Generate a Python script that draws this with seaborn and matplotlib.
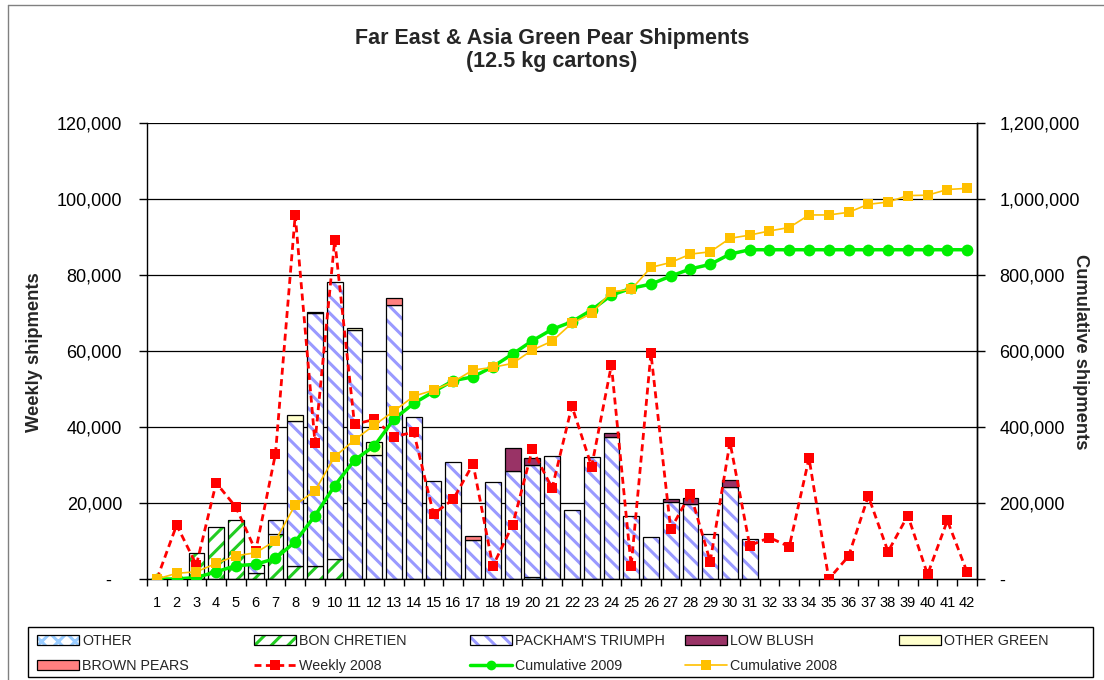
import numpy as np
import matplotlib
matplotlib.use('Agg')
import matplotlib.pyplot as plt
from matplotlib.patches import Patch, Rectangle
from matplotlib.lines import Line2D
from matplotlib.ticker import FuncFormatter
import seaborn as sns

# Données (semaines 1 à 42)
weeks = list(range(1, 43))

other = [0, 0, 0, 0, 0, 0, 0, 0, 0, 0, 0, 0, 0, 0, 0, 0, 0, 0, 0, 600, 0,
         0, 0, 0, 0, 0, 0, 0, 0, 0, 0, 0, 0, 0, 0, 0, 0, 0, 0, 0, 0, 0]
bon_chretien = [0, 0, 6800, 13700, 15500, 1600, 11800, 3400, 3400, 5300, 0,
                0, 0, 0, 0, 0, 0, 0, 0, 0, 0, 0, 0, 0, 0, 0, 0, 0, 0, 0, 0,
                0, 0, 0, 0, 0, 0, 0, 0, 0, 0, 0]
packham = [0, 0, 0, 0, 0, 2200, 3700, 38200, 66500, 72900, 65500, 32600,
           72100, 42600, 25800, 30800, 10300, 25500, 28400, 29400, 32400,
           18200, 32100, 37400, 16600, 11000, 20200, 19700, 11800, 24200,
           10500, 0, 0, 0, 0, 0, 0, 0, 0, 0, 0, 0]
low_blush = [0, 0, 0, 0, 0, 0, 0, 0, 400, 0, 0, 0, 0, 0, 0, 0, 0, 0, 6000,
             1800, 0, 0, 0, 1000, 0, 0, 800, 1600, 0, 1800, 0, 0, 0, 0, 0,
             0, 0, 0, 0, 0, 0, 0]
other_green = [0, 0, 0, 0, 0, 0, 0, 1550, 0, 0, 500, 3400, 0, 0, 0, 0, 0, 0,
               0, 0, 0, 0, 0, 0, 0, 0, 0, 0, 0, 0, 0, 0, 0, 0, 0, 0, 0, 0,
               0, 0, 0, 0]
brown_pears = [0, 0, 0, 0, 0, 0, 0, 0, 0, 0, 0, 0, 1800, 0, 0, 0, 1000, 0, 0,
               0, 0, 0, 0, 0, 0, 0, 0, 0, 0, 0, 0, 0, 0, 0, 0, 0, 0, 0, 0,
               0, 0, 0]

weekly_2008 = [0, 14200, 3700, 25300, 18900, 7400, 32900, 95800, 35900, 89200,
               40700, 42000, 37500, 38600, 17100, 21000, 30300, 3400, 14200,
               34100, 23900, 45500, 29600, 56300, 3400, 59400, 13100, 22500,
               4600, 36000, 8800, 10900, 8500, 31800, 0, 6000, 21800, 7200,
               16700, 1200, 15400, 1800]
cum_2009 = [0, 0, 4000, 19000, 35000, 38700, 54000, 98000, 166600, 245600,
            313000, 350000, 421000, 462000, 493000, 522000, 532000, 558700,
            592000, 627000, 657000, 677000, 708000, 747000, 765000, 776000,
            797000, 816000, 828000, 855000, 866500, 866500, 866500, 866500,
            866500, 866500, 866500, 866500, 866500, 866500, 866500, 866500]
cum_2008 = [0, 15000, 19000, 41000, 61000, 69000, 101000, 195000, 232000,
            322000, 366000, 405000, 442000, 481000, 497000, 519000, 550000,
            557000, 567500, 602600, 626000, 673000, 699000, 756000, 762000,
            820000, 833000, 855000, 861000, 896500, 905000, 916000, 925000,
            958000, 958000, 965000, 986000, 992000, 1009000, 1010000,
            1025000, 1028000]

sns.set_style('white')
plt.rcParams['font.family'] = ['Liberation Sans', 'DejaVu Sans']
plt.rcParams['hatch.linewidth'] = 2.2

fig = plt.figure(figsize=(11.04, 6.8), dpi=100)
ax = fig.add_axes([147 / 1104, 1 - 579 / 680, 830 / 1104, 456 / 680])

# Barres empilées
layers = [
    (other, '#99CCFF', 'xx', 'OTHER'),
    (bon_chretien, '#22CC22', '//', 'BON CHRETIEN'),
    (packham, '#9999FF', '\\\\', "PACKHAM'S TRIUMPH"),
    (low_blush, '#993366', None, 'LOW BLUSH'),
    (other_green, '#FFFFCC', None, 'OTHER GREEN'),
    (brown_pears, '#FF8080', None, 'BROWN PEARS'),
]
x_all = np.array(weeks)
bottom = np.zeros(len(weeks))
bar_handles = []
for vals, col, hatch, name in layers:
    v = np.array(vals, dtype=float)
    m = v > 0
    if hatch:
        ax.bar(x_all[m], v[m], 0.8, bottom=bottom[m], color='white',
               edgecolor=col, hatch=hatch, linewidth=0, zorder=2)
        ax.bar(x_all[m], v[m], 0.8, bottom=bottom[m], fill=False,
               edgecolor='black', linewidth=0.9, zorder=2)
        h = (Patch(facecolor='white', edgecolor=col, hatch=hatch, linewidth=0),
             Patch(fill=False, edgecolor='black', linewidth=0.9))
    else:
        ax.bar(x_all[m], v[m], 0.8, bottom=bottom[m], color=col,
               edgecolor='black', linewidth=0.9, zorder=2)
        h = Patch(facecolor=col, edgecolor='black', linewidth=0.9)
    bar_handles.append((h, name))
    bottom += v

# Hebdomadaire 2008
sns.lineplot(x=weeks, y=weekly_2008, ax=ax, color='#FF0000', linewidth=2,
             linestyle=(0, (2.5, 1.6)), marker='s', markersize=6.5,
             markeredgewidth=0, zorder=4)

ax.set_xlim(0.5, 42.5)
ax.set_ylim(0, 120000)
ax.set_yticks(range(0, 120001, 20000))
ax.set_xticks(weeks)
ax.set_xticks(np.arange(0.5, 43, 1), minor=True)
ax.yaxis.set_major_formatter(FuncFormatter(lambda v, p: '-  ' if v == 0 else f'{v:,.0f}'))
ax.tick_params(axis='y', left=True, length=6, width=1, direction='out',
               pad=12, labelsize=13, colors='black')
ax.tick_params(axis='x', which='major', bottom=True, length=0, pad=12,
               labelsize=10.5, colors='black')
ax.tick_params(axis='x', which='minor', bottom=True, length=5, width=1,
               direction='out', colors='black')
ax.grid(axis='y', color='black', linewidth=0.9)
ax.grid(axis='x', visible=False)
ax.set_axisbelow(True)
ax.set_xlabel('')
ax.set_ylabel('')
for s in ['left', 'bottom', 'right']:
    ax.spines[s].set_color('black')
    ax.spines[s].set_linewidth(1)
ax.spines['top'].set_visible(False)

# Cumuls (axe de droite)
ax2 = ax.twinx()
sns.lineplot(x=weeks, y=cum_2009, ax=ax2, color='#00EE00', linewidth=2.5,
             marker='o', markersize=8.5, markeredgewidth=0)
sns.lineplot(x=weeks, y=cum_2008, ax=ax2, color='#FFC000', linewidth=1.2,
             marker='s', markersize=6.5, markeredgewidth=0)
ax2.set_ylim(0, 1200000)
ax2.set_yticks(range(0, 1200001, 200000))
ax2.yaxis.set_major_formatter(FuncFormatter(lambda v, p: '-' if v == 0 else f'{v:,.0f}'))
ax2.tick_params(axis='y', right=True, length=6, width=1, direction='out',
                pad=10, labelsize=13, colors='black')
ax2.grid(False)
ax2.set_ylabel('')
ax2.set_xlabel('')
for s in ['left', 'top', 'bottom']:
    ax2.spines[s].set_visible(False)
ax2.spines['right'].set_color('black')
ax2.spines['right'].set_linewidth(1)

# Titres
fig.text(0.5, 1 - 50 / 680, 'Far East & Asia Green Pear Shipments\n(12.5 kg cartons)',
         ha='center', va='center', fontsize=15.5, fontweight='bold', linespacing=1.15)
fig.text(35 / 1104, 1 - 352 / 680, 'Weekly shipments', rotation=90,
         ha='center', va='center', fontsize=13.2, fontweight='bold')
fig.text(1080 / 1104, 1 - 352 / 680, 'Cumulative shipments', rotation=-90,
         ha='center', va='center', fontsize=13.2, fontweight='bold')

# Légende : une entrée par emplacement, dans un cadre commun
line_handles = [
    (Line2D([], [], color='#FF0000', linewidth=2, linestyle=(0, (2.5, 1.6)),
            marker='s', markersize=6.5, markeredgewidth=0), 'Weekly 2008'),
    (Line2D([], [], color='#00EE00', linewidth=2.5, marker='o',
            markersize=7, markeredgewidth=0), 'Cumulative 2009'),
    (Line2D([], [], color='#FFC000', linewidth=1.2, marker='s',
            markersize=6.5, markeredgewidth=0), 'Cumulative 2008'),
]
entries = bar_handles + line_handles
col_x = [37, 254, 470, 685, 899]
row_y = [641, 666]
for i, (h, name) in enumerate(entries):
    x = col_x[i % 5]
    y = row_y[i // 5]
    fig.legend([h], [name], loc='center left',
               bbox_to_anchor=(x / 1104, 1 - y / 680),
               frameon=False, fontsize=10.3, handlelength=2.95,
               handleheight=0.75, handletextpad=0.2, borderpad=0,
               borderaxespad=0)
fig.add_artist(Rectangle((28 / 1104, 3 / 680), 1065 / 1104, 50 / 680,
                         fill=False, edgecolor='black', linewidth=1,
                         transform=fig.transFigure))

# Cadre gris de la zone du graphique
fig.add_artist(Line2D([8 / 1104, 8 / 1104], [0, 1 - 5 / 680], color='#808080',
                      linewidth=1, transform=fig.transFigure))
fig.add_artist(Line2D([8 / 1104, 1], [1 - 5 / 680, 1 - 5 / 680], color='#808080',
                      linewidth=1, transform=fig.transFigure))

fig.savefig('out.png', dpi=100)
